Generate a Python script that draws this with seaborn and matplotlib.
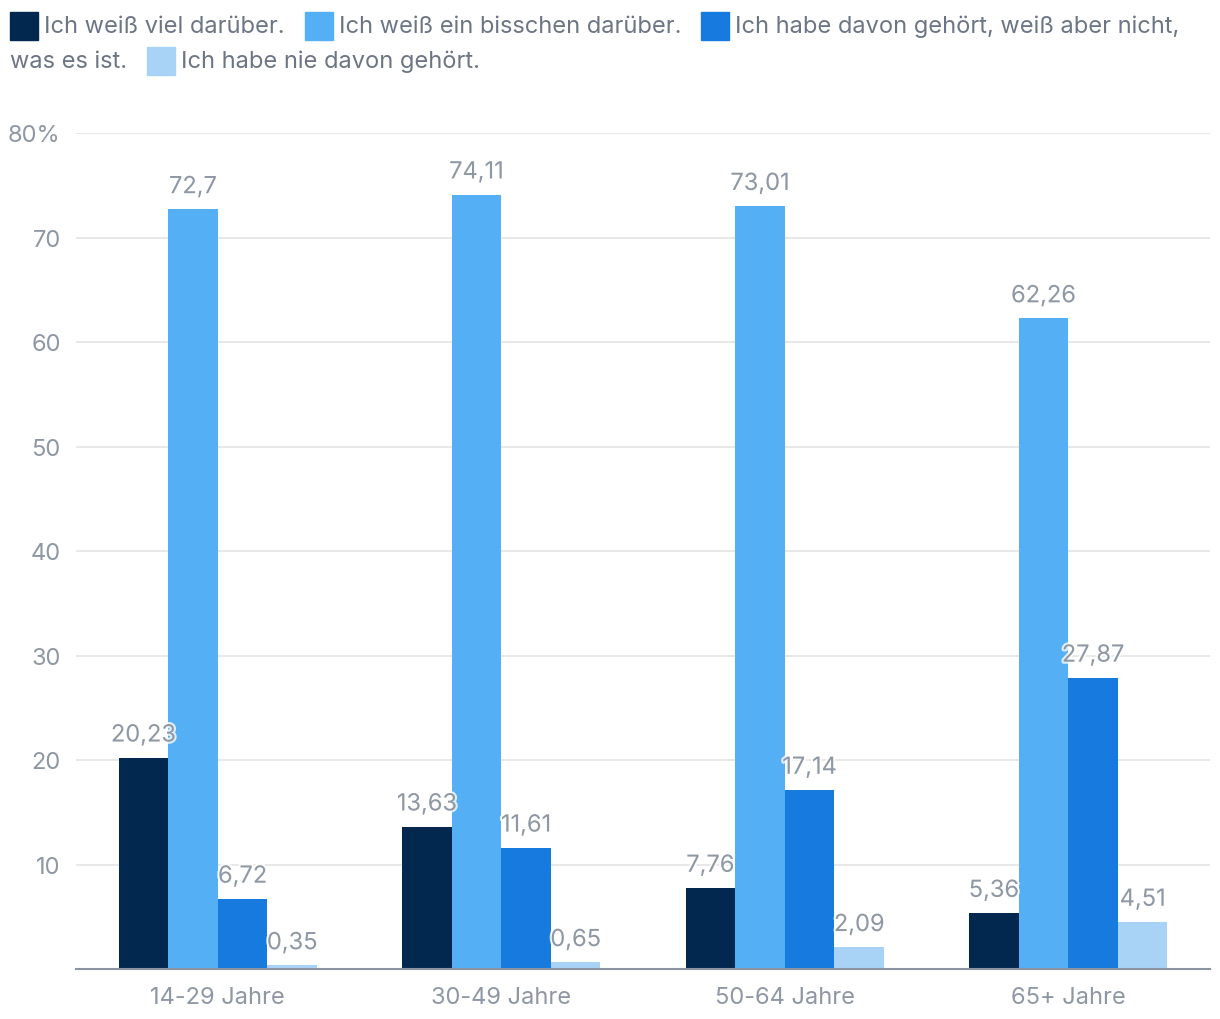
import matplotlib
matplotlib.use("Agg")
import matplotlib.pyplot as plt
import matplotlib.patheffects as pe
from matplotlib.patches import Rectangle
import seaborn as sns
import pandas as pd

categories = ["14-29 Jahre", "30-49 Jahre", "50-64 Jahre", "65+ Jahre"]
series = ["Ich weiß viel darüber.",
          "Ich weiß ein bisschen darüber.",
          "Ich habe davon gehört, weiß aber nicht, was es ist.",
          "Ich habe nie davon gehört."]
viel = [20.23, 13.63, 7.76, 5.36]
bisschen = [72.7, 74.11, 73.01, 62.26]
gehoert = [6.72, 11.61, 17.14, 27.87]
nie = [0.35, 0.65, 2.09, 4.51]
value_labels = [["20,23", "13,63", "7,76", "5,36"],
                ["72,7", "74,11", "73,01", "62,26"],
                ["6,72", "11,61", "17,14", "27,87"],
                ["0,35", "0,65", "2,09", "4,51"]]
yticks = [10, 20, 30, 40, 50, 60, 70, 80]
ytick_labels = ["10", "20", "30", "40", "50", "60", "70", "80%"]
colors = ["#03284f", "#55aff5", "#167ade", "#a9d3f6"]

sns.set_theme(style="white")
plt.rcParams["font.family"] = ["Inter", "DejaVu Sans"]

rows = []
for s, vals in zip(series, [viel, bisschen, gehoert, nie]):
    for c, v in zip(categories, vals):
        rows.append({"Alter": c, "Antwort": s, "Wert": v})
df = pd.DataFrame(rows)

fig = plt.figure(figsize=(12.2, 10.2), dpi=100)
ax = fig.add_axes([76 / 1220, 1 - 970 / 1020, 1134 / 1220, 836 / 1020])

sns.barplot(data=df, x="Alter", y="Wert", hue="Antwort", hue_order=series,
            order=categories, palette=colors, width=0.7, gap=0, ax=ax,
            legend=False, saturation=1, linewidth=0, errorbar=None)

ax.set_xlim(-0.5, 3.5)
ax.set_ylim(0, 80)
ax.set_yticks(yticks)
ax.set_yticklabels(ytick_labels)
ax.set_xlabel("")
ax.set_ylabel("")
ax.grid(axis="y", color="#e4e4e4", linewidth=1.2)
ax.set_axisbelow(True)
for sp in ["top", "right", "left"]:
    ax.spines[sp].set_visible(False)
ax.spines["bottom"].set_color("#8b94a1")
ax.spines["bottom"].set_linewidth(1.5)
ax.tick_params(axis="both", length=0, labelsize=17, colors="#8e97a4")
ax.tick_params(axis="y", pad=11)
ax.tick_params(axis="x", pad=12)

for container, labels in zip(ax.containers, value_labels):
    for bar, lab in zip(container, labels):
        x = bar.get_x() + bar.get_width() / 2
        y = bar.get_height()
        ax.annotate(lab, (x, y), xytext=(0, 8), textcoords="offset points",
                    ha="center", va="bottom", fontsize=17, color="#8e97a4",
                    path_effects=[pe.withStroke(linewidth=3, foreground="#ffffff", alpha=0.8)],
                    zorder=5)

# manual legend (wrapping like the reference)
fig.canvas.draw()
renderer = fig.canvas.get_renderer()
W, H = 1220, 1020
leg_color = "#6b7584"
fs = 17
sq = 28
row_y = [27, 62]
x = 10
row = 0
max_x = 1195

def put_text(s, x, row):
    t = fig.text(x / W, 1 - row_y[row] / H, s, fontsize=fs, color=leg_color,
                 va="center", ha="left")
    bb = t.get_window_extent(renderer)
    return x + bb.width

for i, s in enumerate(series):
    if x + sq + 200 > max_x:
        row += 1
        x = 10
    fig.patches.append(Rectangle((x / W, 1 - (row_y[row] + sq / 2) / H), sq / W, sq / H,
                                 transform=fig.transFigure, color=colors[i]))
    x += sq + 6
    words = s.split(" ")
    line = ""
    for w in words:
        trial = (line + " " + w).strip()
        t = fig.text(0, 0, trial, fontsize=fs)
        wd = t.get_window_extent(renderer).width
        t.remove()
        if x + wd > max_x and line:
            put_text(line, x, row)
            row += 1
            x = 10
            line = w
        else:
            line = trial
    x = put_text(line, x, row)
    x += 20

fig.savefig("out.png", dpi=100, facecolor="white")
